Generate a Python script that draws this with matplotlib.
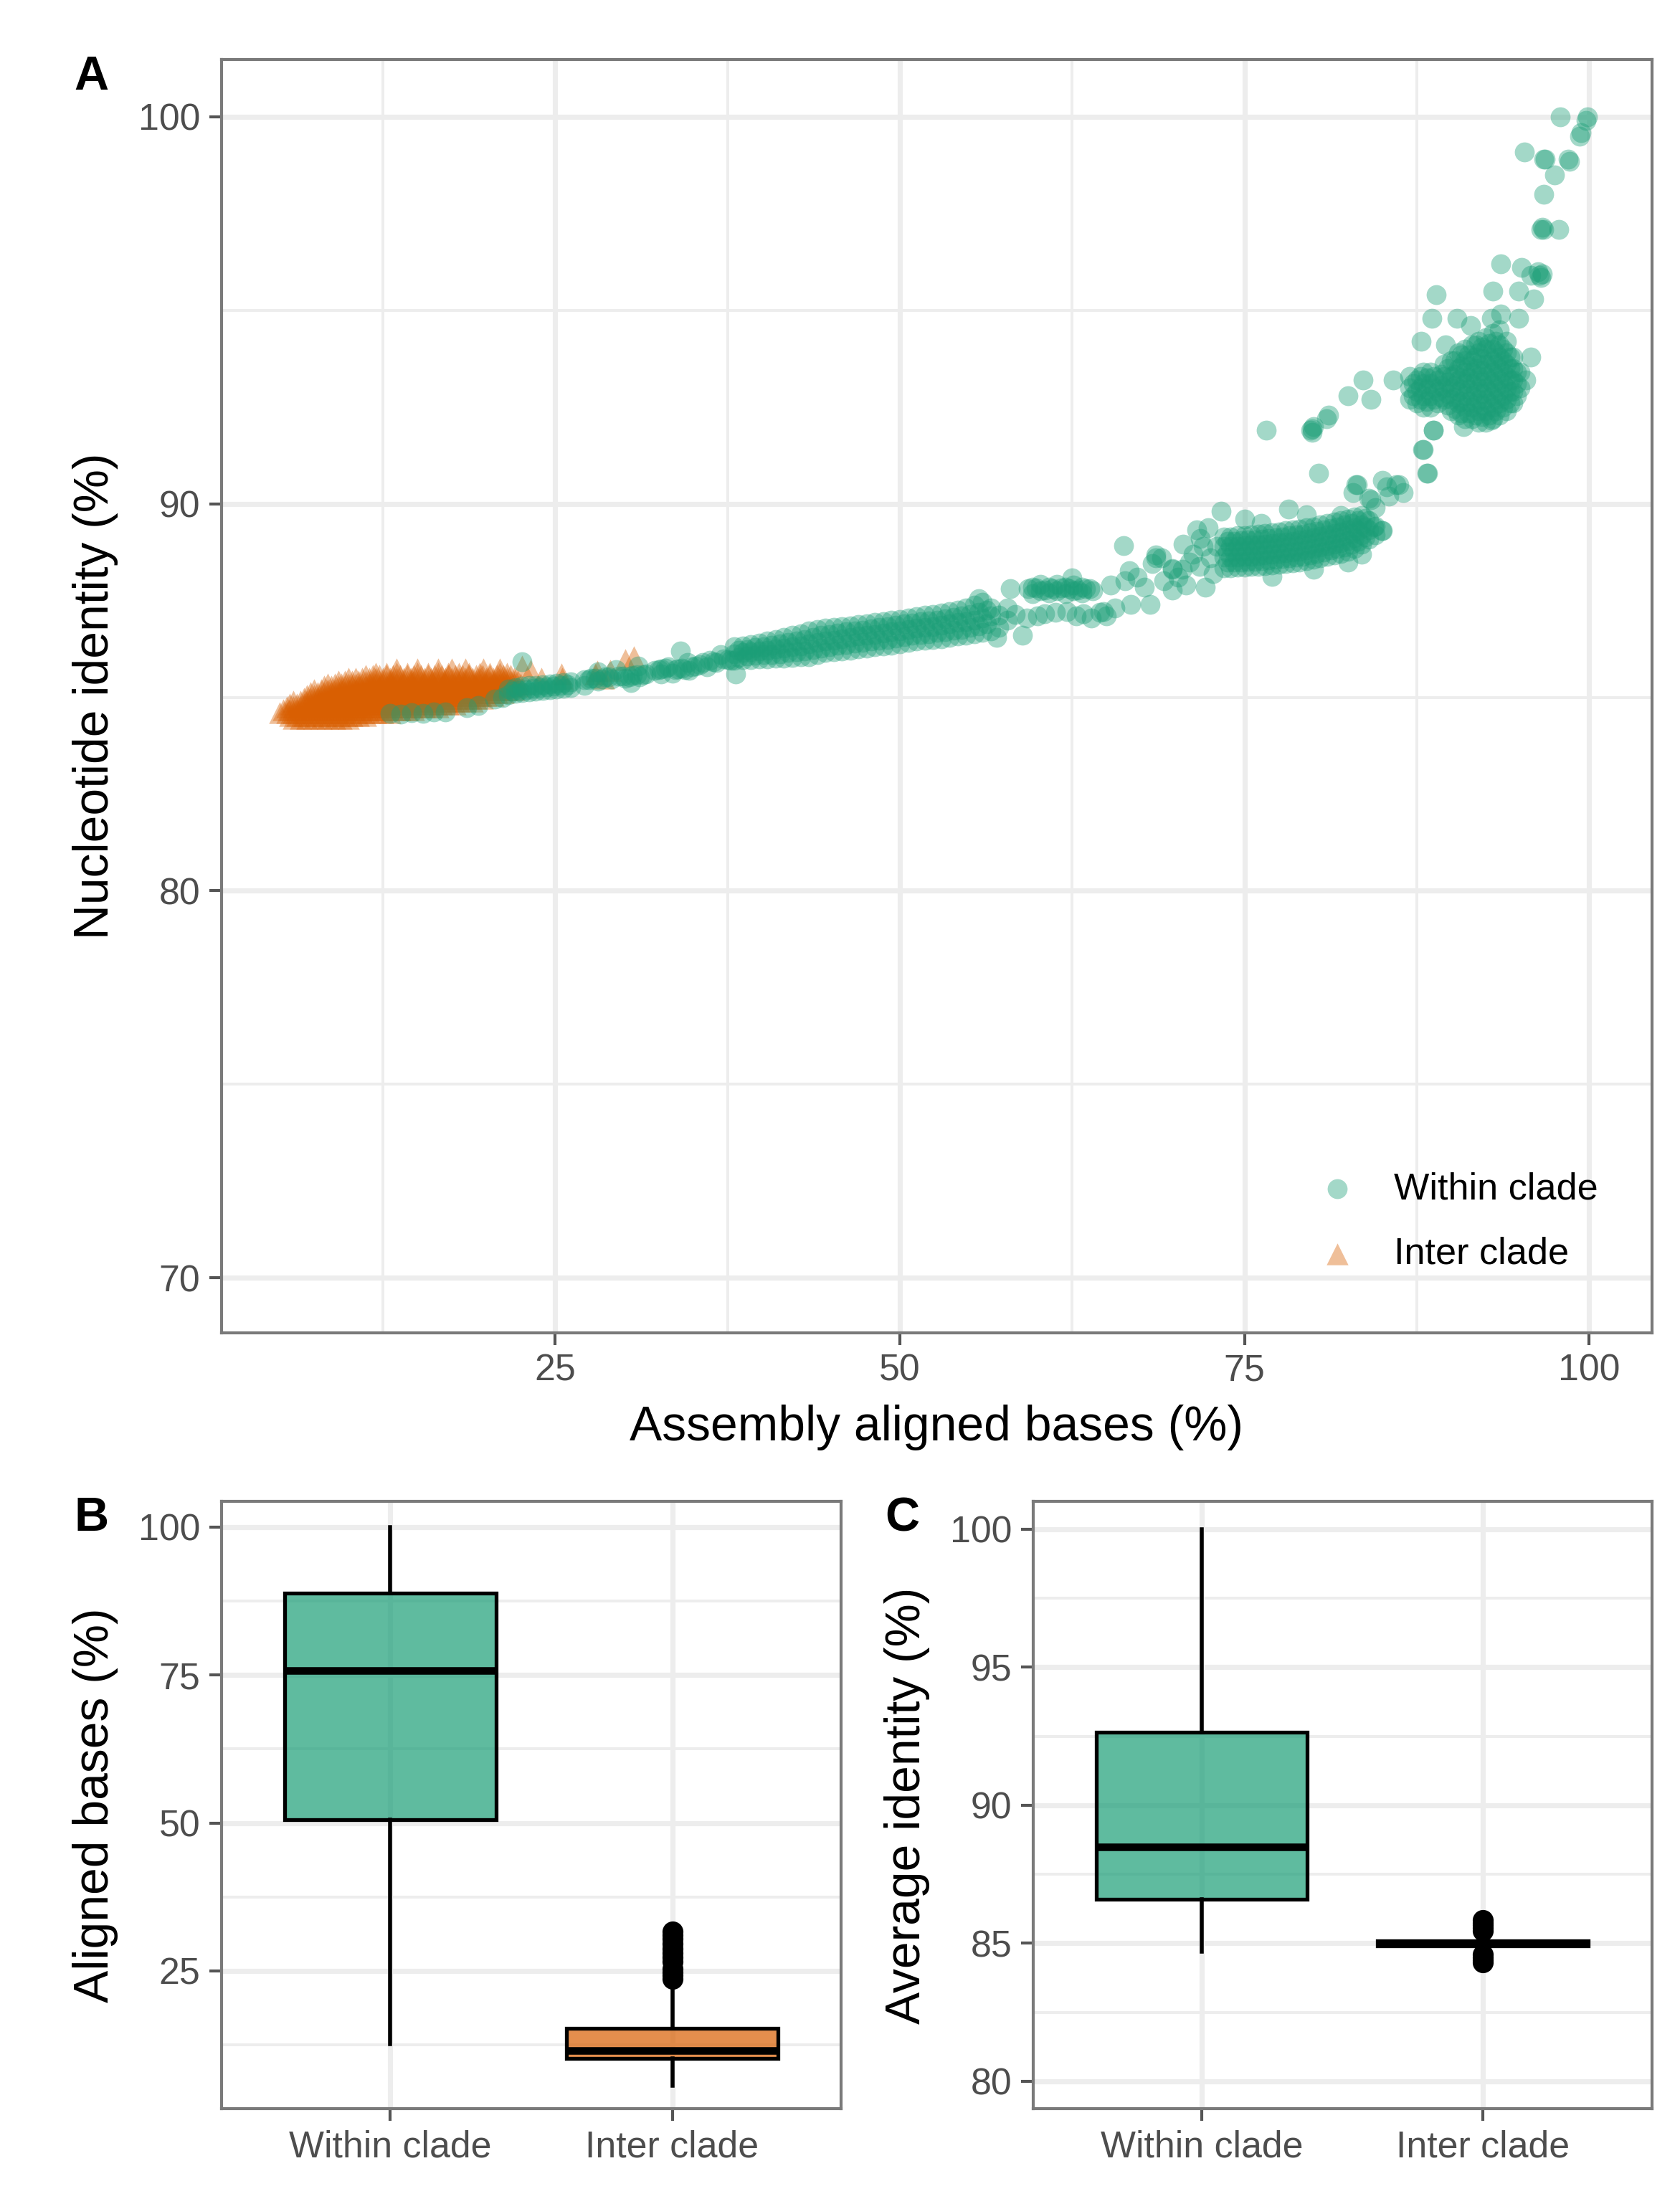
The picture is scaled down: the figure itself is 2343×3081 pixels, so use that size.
import matplotlib
matplotlib.use("Agg")
import matplotlib.pyplot as plt
from matplotlib.ticker import FixedLocator
from matplotlib.colors import to_rgba

plt.rcParams['font.family'] = ['Liberation Sans', 'DejaVu Sans']

# ---------- data ----------

groups = ["Within clade", "Inter clade"]

# panel A, within clade: (aligned bases %, [identity %, ...]) columns
within_cols = [
    # peeking out under the inter-clade cloud
    (13.0, [84.58]), (13.8, [84.56]), (14.6, [84.6]), (15.4, [84.58]), (16.2, [84.62]),
    (17.0, [84.62]), (18.6, [84.74]), (19.4, [84.78]), (20.6, [84.95]), (21.2, [85.0]),
    # 21 - 38
    (21.6, [85.06, 85.22]), (22.1, [85.1, 85.25]), (22.6, [85.12, 85.28, 85.92]), (23.1, [85.14, 85.3]),
    (23.6, [85.16, 85.3]), (24.1, [85.18, 85.32]), (24.6, [85.2, 85.34]), (25.1, [85.22, 85.36]),
    (25.6, [85.24, 85.38]), (26.1, [85.25, 85.4]), (27.1, [85.3, 85.45]), (27.6, [85.5]),
    (28.1, [85.42, 85.65]), (28.6, [85.52]), (29.1, [85.48]), (29.4, [85.72]), (29.6, [85.55]),
    (30.1, [85.5]), (30.5, [85.38]), (30.6, [85.56]), (31.0, [85.8]), (31.1, [85.52]), (31.6, [85.6]),
    (32.2, [85.7]), (32.7, [85.6, 85.74]), (33.2, [85.78]), (33.5, [85.62]), (33.7, [85.72]),
    (34.1, [86.2]), (34.2, [85.76]), (34.6, [85.9]), (34.7, [85.7]), (35.2, [85.8]),
    (35.7, [85.9]), (36.0, [85.78]), (36.2, [85.95]), (36.7, [85.9]), (37.0, [86.1]),
    (37.2, [86.0]), (37.7, [85.95]), (38.1, [85.6]),
    (21.9, [85.15]), (22.4, [85.18]), (22.9, [85.2]), (23.4, [85.23]), (23.9, [85.25]), (24.4, [85.27]),
    (24.9, [85.29]), (25.4, [85.3]), (25.9, [85.32]), (27.4, [85.45]), (27.9, [85.5]), (28.4, [85.48]),
    (28.9, [85.52]), (29.9, [85.55]), (30.4, [85.52]), (30.9, [85.58]), (31.4, [85.58]), (32.5, [85.72]),
    (33.0, [85.75]), (33.9, [85.74]), (34.4, [85.72]), (34.9, [85.78]), (35.5, [85.85]), (36.5, [85.92]),
    (37.5, [85.98]),
    # 38 - 50 band
    (38.0, [85.95, 86.12, 86.3]), (38.6, [85.97, 86.15, 86.33]), (39.2, [85.98, 86.17, 86.36]),
    (39.8, [86.0, 86.2, 86.4]), (40.4, [86.0, 86.22, 86.45]), (41.0, [86.02, 86.25, 86.5]),
    (41.6, [86.02, 86.27, 86.55]), (42.2, [86.03, 86.3, 86.6]), (42.8, [86.04, 86.33, 86.65]),
    (43.4, [86.05, 86.38, 86.72]), (44.0, [86.1, 86.42, 86.75]), (44.6, [86.15, 86.45, 86.78]),
    (45.2, [86.18, 86.48, 86.8]), (45.8, [86.2, 86.52, 86.83]), (46.4, [86.22, 86.55, 86.85]),
    (47.0, [86.25, 86.58, 86.88]), (47.6, [86.27, 86.6, 86.9]), (48.2, [86.3, 86.63, 86.93]),
    (48.8, [86.32, 86.66, 86.95]), (49.4, [86.35, 86.7, 87.0]),
    (38.3, [86.03, 86.21]), (38.9, [86.06, 86.24]), (39.5, [86.09, 86.28]), (40.1, [86.1, 86.31]),
    (40.7, [86.11, 86.35]), (41.3, [86.13, 86.38]), (41.9, [86.15, 86.42]), (42.5, [86.17, 86.45]),
    (43.1, [86.19, 86.49]), (43.7, [86.23, 86.55]), (44.3, [86.27, 86.6]), (44.9, [86.31, 86.62]),
    (45.5, [86.35, 86.66]), (46.1, [86.37, 86.69]), (46.7, [86.4, 86.72]), (47.3, [86.42, 86.74]),
    (47.9, [86.45, 86.77]), (48.5, [86.48, 86.8]), (49.1, [86.5, 86.83]), (49.7, [86.53, 86.86]),
    # 50 - 58
    (50.0, [86.38, 86.72, 87.02]), (50.6, [86.42, 86.75, 87.05]), (51.2, [86.45, 86.78, 87.08]),
    (51.8, [86.48, 86.8, 87.12]), (52.4, [86.5, 86.83, 87.15]), (53.0, [86.52, 86.86, 87.18]),
    (53.6, [86.55, 86.9, 87.22]), (54.2, [86.58, 86.93, 87.26]), (54.8, [86.6, 86.96, 87.3]),
    (55.4, [86.65, 87.0, 87.38]), (56.0, [86.68, 87.05, 87.45]), (56.6, [86.72, 87.1, 87.3]),
    (57.2, [86.8, 87.12]), (57.8, [87.0, 87.3]), (55.7, [87.55]), (57.0, [86.55]),
    (58.0, [87.8]), (58.9, [86.6]),
    (50.3, [86.57, 86.9]), (50.9, [86.6, 86.92]), (51.5, [86.63, 86.95]), (52.1, [86.65, 86.98]),
    (52.7, [86.68, 87.0]), (53.3, [86.7, 87.03]), (53.9, [86.73, 87.06]), (54.5, [86.76, 87.1]),
    (55.1, [86.8, 87.15]), (55.7, [86.85, 87.2]), (56.3, [86.9, 87.25]),
    # 58 - 65
    (59.3, [87.8]), (59.6, [87.68, 87.85]), (59.9, [87.82]), (60.2, [87.92, 87.75]), (60.5, [87.78]),
    (60.8, [87.7, 87.85]), (61.1, [87.8]), (61.4, [87.92, 87.75]), (61.7, [87.82]), (62.0, [87.68, 87.85]),
    (62.3, [87.8]), (62.5, [88.08]), (62.6, [87.9, 87.75]), (62.9, [87.78]), (63.2, [87.7, 87.85]),
    (63.5, [87.8]), (63.8, [87.8]), (64.0, [87.76]),
    (58.4, [87.15]), (59.2, [87.05]), (60.0, [87.1]), (60.5, [87.16]), (61.3, [87.2]), (62.1, [87.22]),
    (62.8, [87.1]), (63.3, [87.16]), (63.9, [87.05]), (64.5, [87.2]), (64.8, [87.22]), (65.0, [87.1]),
    (65.6, [87.3]),
    # 65 - 73
    (65.3, [87.9]), (66.25, [88.92]), (66.35, [88.02]), (66.65, [88.27]), (66.75, [87.4]), (67.2, [88.1]),
    (67.75, [87.84]), (68.15, [87.4]), (68.3, [88.45]), (68.55, [88.67, 88.6]), (69.0, [88.6]),
    (69.15, [88.02]), (69.75, [88.33, 88.3, 87.77]), (70.2, [88.1]), (70.5, [88.3]), (70.55, [88.95]),
    (70.75, [87.9]), (71.0, [88.5]), (71.3, [88.7]), (71.55, [89.32]), (71.75, [88.39]), (71.8, [89.1]),
    (72.0, [88.9]), (72.15, [87.84]), (72.35, [89.38]), (72.5, [88.6]), (72.75, [88.2]), (73.0, [88.9]),
    (73.3, [89.8]),
    # 73 - 85 dense band
    (73.5, [88.35, 88.62, 88.9, 89.15]), (74.0, [88.35, 88.62, 88.9, 89.15]),
    (74.5, [88.36, 88.63, 88.91, 89.17]), (75.0, [88.37, 88.64, 88.92, 89.18]),
    (75.5, [88.38, 88.65, 88.93, 89.2]), (76.0, [88.39, 88.66, 88.94, 89.22]),
    (76.5, [88.4, 88.68, 88.96, 89.24]), (77.0, [88.42, 88.7, 88.98, 89.26]),
    (77.5, [88.44, 88.72, 89.0, 89.28]), (78.0, [88.46, 88.74, 89.02, 89.3]),
    (78.5, [88.48, 88.76, 89.04, 89.32]), (79.0, [88.5, 88.78, 89.06, 89.35]),
    (79.5, [88.53, 88.81, 89.09, 89.38]), (80.0, [88.56, 88.84, 89.12, 89.41]),
    (80.5, [88.6, 88.88, 89.16, 89.45]), (81.0, [88.64, 88.92, 89.2, 89.49]),
    (81.5, [88.68, 88.96, 89.24, 89.53]), (82.0, [88.72, 89.0, 89.28, 89.57]),
    (82.5, [88.78, 89.05, 89.33, 89.61]), (83.0, [88.85, 89.12, 89.39, 89.66]),
    (83.5, [88.95, 89.2, 89.45, 89.7]), (84.0, [89.08, 89.32, 89.56]), (84.5, [89.2, 89.42]),
    (85.0, [89.3]),
    (73.75, [88.49, 88.76, 89.03]), (74.25, [88.5, 88.77, 89.04]), (74.75, [88.5, 88.78, 89.05]),
    (75.25, [88.51, 88.79, 89.06]), (75.75, [88.52, 88.8, 89.07]), (76.25, [88.53, 88.81, 89.09]),
    (76.75, [88.55, 88.83, 89.11]), (77.25, [88.57, 88.85, 89.13]), (77.75, [88.59, 88.87, 89.15]),
    (78.25, [88.61, 88.89, 89.17]), (78.75, [88.63, 88.91, 89.19]), (79.25, [88.65, 88.93, 89.22]),
    (79.75, [88.68, 88.96, 89.25]), (80.25, [88.72, 89.0, 89.29]), (80.75, [88.76, 89.04, 89.33]),
    (81.25, [88.8, 89.08, 89.37]), (81.75, [88.84, 89.12, 89.41]), (82.25, [88.89, 89.17, 89.45]),
    (82.75, [88.95, 89.23, 89.5]), (83.25, [89.03, 89.3, 89.56]), (83.75, [89.15, 89.4, 89.62]),
    (75.0, [89.6]), (76.2, [89.5]), (78.2, [89.87]), (79.5, [89.72]), (84.4, [89.4]), (84.95, [89.3]),
    (77.0, [88.12]), (80.0, [88.3]), (82.5, [88.5]), (83.5, [88.7]),
    # 76 - 89 scattered
    (80.4, [90.8]), (82.0, [89.7]), (82.9, [90.3]), (83.1, [90.5]), (83.2, [90.5]), (84.0, [90.15]),
    (84.2, [90.1]), (84.5, [89.9]), (85.0, [90.6]), (85.3, [90.43]), (85.5, [90.2]), (86.0, [90.5]),
    (86.2, [90.49]), (86.5, [90.3]), (87.9, [91.4]), (88.0, [91.4]), (88.25, [90.8]), (88.3, [90.8]),
    (88.7, [91.9, 91.9]), (76.6, [91.9]), (79.8, [91.9]), (79.9, [91.85, 91.94]), (80.0, [92.0]),
    (80.96, [92.2]), (81.1, [92.3]), (82.5, [92.8]), (83.6, [93.2]), (84.2, [92.7]), (85.8, [93.2]),
    (90.9, [92.0]), (92.9, [92.16]),
    # 87 - 95 upper cluster
    (87.0, [92.7, 93.0, 93.3]), (87.5, [92.6, 92.9, 93.2]), (88.0, [92.5, 92.8, 93.1, 93.4]),
    (88.5, [92.5, 92.8, 93.1, 93.4]), (89.0, [92.6, 92.9, 93.2]), (89.5, [92.7, 93.0, 93.3, 93.6]),
    (90.0, [92.4, 92.7, 93.0, 93.3, 93.7]), (90.5, [92.3, 92.6, 92.9, 93.2, 93.5, 93.9]),
    (91.0, [92.2, 92.5, 92.8, 93.1, 93.4, 93.7, 94.0]),
    (91.5, [92.2, 92.5, 92.8, 93.1, 93.4, 93.7, 94.1]),
    (92.0, [92.1, 92.4, 92.7, 93.0, 93.3, 93.6, 93.9, 94.2]),
    (92.5, [92.1, 92.4, 92.7, 93.0, 93.3, 93.6, 94.0, 94.3]),
    (93.0, [92.2, 92.5, 92.8, 93.1, 93.4, 93.7, 94.0, 94.4]),
    (93.5, [92.3, 92.6, 92.9, 93.2, 93.5, 93.8, 94.1, 94.5]),
    (94.0, [92.4, 92.7, 93.0, 93.3, 93.6, 93.9, 94.2]),
    (94.5, [92.6, 92.9, 93.2, 93.5, 93.8]), (95.0, [93.0, 93.4]),
    (87.25, [92.8, 93.1]), (87.75, [92.7, 93.0, 93.3]), (88.25, [92.65, 92.95, 93.25]),
    (88.75, [92.7, 93.0, 93.3]), (89.25, [92.75, 93.05, 93.35]), (89.75, [92.55, 92.85, 93.15, 93.5]),
    (90.25, [92.45, 92.75, 93.05, 93.35, 93.7]), (90.75, [92.35, 92.65, 92.95, 93.25, 93.55, 93.85]),
    (91.25, [92.35, 92.65, 92.95, 93.25, 93.55, 93.85]),
    (91.75, [92.3, 92.6, 92.9, 93.2, 93.5, 93.8, 94.1]),
    (92.25, [92.25, 92.55, 92.85, 93.15, 93.45, 93.75, 94.05]),
    (92.75, [92.3, 92.6, 92.9, 93.2, 93.5, 93.8, 94.15]),
    (93.25, [92.4, 92.7, 93.0, 93.3, 93.6, 93.9, 94.2]),
    (93.75, [92.5, 92.8, 93.1, 93.4, 93.7, 94.0]), (94.25, [92.6, 92.9, 93.2, 93.5, 93.8]),
    (94.75, [92.8, 93.1, 93.4]),
    (87.8, [94.2]), (88.6, [94.8]), (88.9, [95.4]), (89.6, [94.1]), (90.4, [94.8]), (91.4, [94.6]),
    (92.9, [94.8]), (93.6, [94.9]), (94.9, [94.8]), (95.8, [93.8]), (95.4, [93.2]),
    # top tail
    (93.0, [95.5]), (93.6, [96.2]), (94.9, [95.5]), (95.1, [96.1]), (95.8, [95.9]), (96.0, [95.3]),
    (96.3, [96.0]), (96.4, [95.9]), (96.5, [95.85, 97.1]), (96.6, [95.95, 97.15]),
    (96.7, [97.1, 98.0, 98.9]), (96.8, [98.9]), (97.5, [98.5]), (97.8, [97.1]), (98.5, [98.9]),
    (98.6, [98.85]), (95.3, [99.1]), (99.3, [99.5]), (99.4, [99.6]), (97.9, [100.0]),
    (99.8, [99.9]), (99.9, [100.0]),
]

# panel A, inter clade: (identity %, [aligned bases %, ...]) rows
inter_rows = [
    (84.45, [6.0, 6.5, 7.0, 7.5, 8.0, 8.5, 9.0, 9.5, 10.0]),
    (84.52, [5.75, 6.25, 6.75, 7.25, 7.75, 8.25, 8.75, 9.25, 9.75, 10.25, 10.75, 11.25]),
    (84.6, [5.0, 5.5, 6.0, 6.5, 7.0, 7.5, 8.0, 8.5, 9.0, 9.5, 10.0, 10.5, 11.0, 11.5, 12.0, 12.5, 13.0]),
    (84.68, [5.25, 5.75, 6.25, 6.75, 7.25, 7.75, 8.25, 8.75, 9.25, 9.75, 10.25, 10.75, 11.25, 11.75,
             12.25, 12.75, 13.25, 13.75, 14.25, 14.75]),
    (84.75, [5.5, 6.0, 6.5, 7.0, 7.5, 8.0, 8.5, 9.0, 9.5, 10.0, 10.5, 11.0, 11.5, 12.0, 12.5, 13.0,
             13.5, 14.0, 14.5, 15.0, 15.5, 16.0, 16.5]),
    (84.82, [5.75, 6.25, 6.75, 7.25, 7.75, 8.25, 8.75, 9.25, 9.75, 10.25, 10.75, 11.25, 11.75, 12.25,
             12.75, 13.25, 13.75, 14.25, 14.75, 15.25, 15.75, 16.25, 16.75, 17.25, 17.75]),
    (84.9, [6.0, 6.5, 7.0, 7.5, 8.0, 8.5, 9.0, 9.5, 10.0, 10.5, 11.0, 11.5, 12.0, 12.5, 13.0, 13.5,
            14.0, 14.5, 15.0, 15.5, 16.0, 16.5, 17.0, 17.5, 18.0, 18.5, 19.0]),
    (84.98, [6.75, 7.25, 7.75, 8.25, 8.75, 9.25, 9.75, 10.25, 10.75, 11.25, 11.75, 12.25, 12.75, 13.25,
             13.75, 14.25, 14.75, 15.25, 15.75, 16.25, 16.75, 17.25, 17.75, 18.25, 18.75, 19.25, 19.75]),
    (85.05, [7.0, 7.5, 8.0, 8.5, 9.0, 9.5, 10.0, 10.5, 11.0, 11.5, 12.0, 12.5, 13.0, 13.5, 14.0, 14.5,
             15.0, 15.5, 16.0, 16.5, 17.0, 17.5, 18.0, 18.5, 19.0, 19.5, 20.0, 20.5]),
    (85.12, [7.25, 7.75, 8.25, 8.75, 9.25, 9.75, 10.25, 10.75, 11.25, 11.75, 12.25, 12.75, 13.25, 13.75,
             14.25, 14.75, 15.25, 15.75, 16.25, 16.75, 17.25, 17.75, 18.25, 18.75, 19.25, 19.75, 20.25,
             20.75, 21.25]),
    (85.2, [7.5, 8.0, 8.5, 9.0, 9.5, 10.0, 10.5, 11.0, 11.5, 12.0, 12.5, 13.0, 13.5, 14.0, 14.5, 15.0,
            15.5, 16.0, 16.5, 17.0, 17.5, 18.0, 18.5, 19.0, 19.5, 20.0, 20.5, 21.0, 21.5, 22.0]),
    (85.28, [8.25, 8.75, 9.25, 9.75, 10.25, 10.75, 11.25, 11.75, 12.25, 12.75, 13.25, 13.75, 14.25,
             14.75, 15.25, 15.75, 16.25, 16.75, 17.25, 17.75, 18.25, 18.75, 19.25, 19.75, 20.25, 20.75,
             21.25, 21.75, 22.25]),
    (85.35, [8.5, 9.0, 9.5, 10.0, 10.5, 11.0, 11.5, 12.0, 12.5, 13.0, 13.5, 14.0, 14.5, 15.0, 15.5,
             16.0, 16.5, 17.0, 17.5, 18.0, 18.5, 19.0, 19.5, 20.0, 20.5, 21.0, 21.5, 22.0, 22.5]),
    (85.42, [9.25, 9.75, 10.25, 10.75, 11.25, 11.75, 12.25, 12.75, 13.25, 13.75, 14.25, 14.75, 15.25,
             15.75, 16.25, 16.75, 17.25, 17.75, 18.25, 18.75, 19.25, 19.75, 20.25, 20.75, 21.25, 21.75,
             22.25]),
    (85.5, [10.0, 10.5, 11.0, 11.5, 12.0, 12.5, 13.0, 13.5, 14.0, 14.5, 15.0, 15.5, 16.0, 16.5, 17.0,
            17.5, 18.0, 18.5, 19.0, 19.5, 20.0, 20.5, 21.0, 21.5, 22.0]),
    (85.56, [11.25, 11.75, 12.25, 12.75, 13.25, 13.75, 14.25, 14.75, 15.25, 15.75, 16.25, 16.75, 17.25,
             17.75, 18.25, 18.75, 19.25, 19.75, 20.25, 20.75, 21.25, 21.75]),
    (85.62, [12.0, 12.75, 13.5, 14.25, 15.0, 15.75, 16.5, 17.25, 18.0, 18.75, 19.5, 20.25, 21.0, 21.5]),
    (85.74, [13.5, 15.0, 16.5, 17.5, 18.5, 19.8, 21.0]),
    (85.5, [24.0, 25.5, 28.5]), (85.6, [25.46, 27.9]), (85.67, [28.06]), (85.7, [23.2, 29.0]),
    (85.8, [22.6]), (85.98, [30.1]), (86.04, [30.7]),
]

# panel B: aligned bases (%)
aligned_within = dict(whislo=12.6, q1=50.6, med=75.8, q3=88.8, whishi=100.0)
aligned_inter = dict(whislo=5.6, q1=10.2, med=11.5, q3=15.3, whishi=22.5)
aligned_inter_outliers = [23.7, 24.2, 24.8, 25.3, 26.6, 27.3, 28.0, 28.8, 29.6, 30.4, 31.1, 31.6]

# panel C: average identity (%)
identity_within = dict(whislo=84.7, q1=86.6, med=88.5, q3=92.65, whishi=100.0)
identity_inter = dict(whislo=84.7, q1=84.9, med=85.0, q3=85.1, whishi=85.35)
identity_inter_outliers = [85.45, 85.55, 85.65, 85.75, 85.85, 84.6, 84.5, 84.4, 84.3]

GREEN = '#1B9E77'
ORANGE = '#D95F02'
GRID = '#EDEDED'
BORDER = '#7A7A7A'
TICKCOL = '#555555'
TICKTXT = '#4D4D4D'

# ---------- helpers ----------

def style_panel(ax, minor_x=True):
    for sp in ax.spines.values():
        sp.set_color(BORDER)
        sp.set_linewidth(1.5)
    ax.tick_params(which='major', length=6, width=1.5, color=TICKCOL,
                   labelsize=18.7, labelcolor=TICKTXT, pad=4.5)
    ax.tick_params(which='minor', length=0)
    ax.grid(which='major', color=GRID, linewidth=2.6)
    ax.grid(which='minor', axis='both' if minor_x else 'y', color=GRID, linewidth=1.4)
    ax.set_axisbelow(True)


def draw_boxes(ax, stats_list, outliers):
    stats = []
    for name, st, fl in zip(groups, stats_list, outliers):
        d = dict(st)
        d['label'] = name
        d['fliers'] = fl
        stats.append(d)
    res = ax.bxp(stats, positions=[1, 2], widths=0.75, patch_artist=True, showcaps=False,
                 boxprops=dict(edgecolor='black', linewidth=1.9),
                 medianprops=dict(color='black', linewidth=3.8, solid_capstyle='butt'),
                 whiskerprops=dict(color='black', linewidth=2.0),
                 flierprops=dict(marker='o', markerfacecolor='black', markeredgecolor='black',
                                 markersize=9.5, linestyle='none'))
    for box, col in zip(res['boxes'], [GREEN, ORANGE]):
        box.set_facecolor(to_rgba(col, 0.7))
    ax.set_xlim(0.4, 2.6)


# ---------- figure ----------

fig = plt.figure(figsize=(2343 / 200, 3081 / 200), dpi=200)

# panel A
axA = fig.add_axes([0.1317, 0.3967, 0.8515, 0.5765])
ix, iy = [], []
for y, xs in inter_rows:
    for x in xs:
        ix.append(x)
        iy.append(y)
wx, wy = [], []
for x, ys in within_cols:
    for y in ys:
        wx.append(x)
        wy.append(y)

h_inter = axA.scatter(ix, iy, s=120, marker='^', color=ORANGE, alpha=0.4, linewidths=0,
                      label=groups[1], zorder=2)
h_within = axA.scatter(wx, wy, s=100, marker='o', color=GREEN, alpha=0.4, linewidths=0,
                       label=groups[0], zorder=3)

axA.set_xlim(0.77, 104.55)
axA.set_ylim(68.58, 101.49)
axA.set_xticks([25, 50, 75, 100])
axA.set_xticklabels(["25", "50", "75", "100"])
axA.xaxis.set_minor_locator(FixedLocator([12.5, 37.5, 62.5, 87.5]))
axA.set_yticks([70, 80, 90, 100])
axA.set_yticklabels(["70", "80", "90", "100"])
axA.yaxis.set_minor_locator(FixedLocator([75, 85, 95]))
style_panel(axA)
axA.set_xlabel("Assembly aligned bases (%)", fontsize=24.4, labelpad=8)
axA.set_ylabel("Nucleotide identity (%)", fontsize=24.4, labelpad=10)

leg = axA.legend(handles=[h_within, h_inter], loc='lower left', bbox_to_anchor=(0.759, 0.036),
                 frameon=False, fontsize=18.8, handlelength=0.8, handletextpad=1.12,
                 labelspacing=0.8, scatterpoints=1, borderaxespad=0)

# panel B
axB = fig.add_axes([0.1317, 0.0453, 0.3691, 0.2749])
draw_boxes(axB, [aligned_within, aligned_inter], [[], aligned_inter_outliers])
axB.set_ylim(1.67, 104.3)
axB.set_yticks([25, 50, 75, 100])
axB.set_yticklabels(["25", "50", "75", "100"])
axB.yaxis.set_minor_locator(FixedLocator([12.5, 37.5, 62.5, 87.5]))
style_panel(axB, minor_x=False)
axB.set_ylabel("Aligned bases (%)", fontsize=24.4, labelpad=10)

# panel C
axC = fig.add_axes([0.6149, 0.0453, 0.3683, 0.2749])
draw_boxes(axC, [identity_within, identity_inter], [[], identity_inter_outliers])
axC.set_ylim(79.0, 101.0)
axC.set_yticks([80, 85, 90, 95, 100])
axC.set_yticklabels(["80", "85", "90", "95", "100"])
axC.yaxis.set_minor_locator(FixedLocator([82.5, 87.5, 92.5, 97.5]))
style_panel(axC, minor_x=False)
axC.set_ylabel("Average identity (%)", fontsize=24.4, labelpad=10)

for tag, x, y in [("A", 0.0545, 0.965), ("B", 0.0545, 0.3125), ("C", 0.537, 0.3125)]:
    fig.text(x, y, tag, fontsize=24, fontweight='bold', ha='center', va='center')

fig.savefig("out.png", dpi=200)
plt.close(fig)
